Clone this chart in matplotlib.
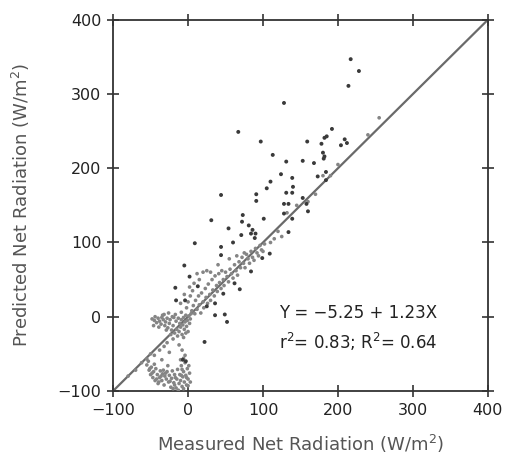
import numpy as np
import matplotlib
matplotlib.use("Agg")
import matplotlib.pyplot as plt

# outlying points (darker in the scan)
dark_x = [217, 228, 214, 128, 67, 97, 192, 185, 182, 159, 178, 209, 212, 204, 180, 182, 181,
          113, 168, 153, 131, 124, 184, 173, 184, 110, 105, 139, 140, 131, 139, 153, 128, 134,
          158, 160, 128, 139, 134, 91, 91, 44, 31, 73, 72, 54, 81, 86, 84, 71, 90, 89, 101,
          60, 9, 44, 44, -5, 109, 99, 84, 2, 13, 69, 62, 47, 36, 25, 36, 49, 52, 22, -4,
          -17, -16, -7, -3]
dark_y = [347, 331, 311, 288, 249, 236, 253, 243, 241, 236, 233, 239, 234, 231, 221, 216, 213,
          218, 207, 210, 209, 192, 195, 189, 184, 182, 173, 187, 175, 167, 167, 160, 152, 152,
          152, 142, 139, 132, 114, 165, 156, 164, 130, 137, 128, 119, 123, 117, 112, 110, 112, 106, 132,
          100, 99, 94, 83, 69, 85, 79, 61, 54, 41, 37, 45, 31, 18, 14, 2, 3, -7, -34, 22,
          39, 22, -58, -60]

# dense cluster points (lighter)
grey_x = [-48, -45, -44, -42, -40, -38, -36, -35, -33, -31, -30, -28, -27, -25, -24, -22, -20,
          -19, -18, -16, -15, -13, -12, -11, -10, -9, -8, -7, -6, -5, -4, -3, -2, -1, 0, 1, 2, 3,
          -46, -39, -34, -29, -23, -17, -14, -9, -6, -3, 4, -32, -26, -21,
          -55, -50, -45, -38, -35, -32, -28, -25, -20, -12, -8, -6, -4, -10,
          -55, -52, -50, -49, -47, -46, -44, -43, -41, -40, -38, -37, -35, -34, -32, -31, -29,
          -28, -26, -25, -23, -22, -21, -19, -18, -16, -15, -14, -12, -11, -10, -9, -8, -7, -6,
          -5, -4, -3, -2, -1, 0, 1, 2, -53, -45, -27, -20, -13, -6, 3,
          -48, -42, -36, -30, -24, -17, -9, -2, -51, -39, -33, -18, -8, 0,
          5, 7, 9, 10, 12, 14, 15, 17, 18, 20, 21, 23, 24, 26, 27, 29, 30, 32, 33, 35, 36, 38,
          39, 41, 42, 44, 45, 47, 48, 50, 52, 54, 56, 58, 60, 62, 64, 66, 68, 70, 72, 74, 76,
          78, 80, 82, 84, 86, 88, 90, 92, 94, 96, 98, 100, 102, -2, 0, 3, -5, 6, -10, 2, 8, 15,
          20, 25, 30, 12, 40, 55, 65, 75,
          110, 115, 120, 125, 132, 145, 160, 170, 180, 190, 200, 240, 255, -70, -80, -62]
grey_y = [-3, -5, 0, -8, -2, -6, -10, -1, -4, -12, -7, -2, -15, -9, -4, -18, -12,
          -1, -22, -6, -17, -2, -20, -9, -14, -4, -24, -11, -1, -17, -7, 2, -13, -5, -20, 1, -9, -3,
          -12, -14, 2, -18, -24, 3, -26, 6, -28, -22, 4, 3, 5, 0,
          -57, -50, -52, -45, -58, -40, -35, -48, -30, -38, -45, -56, -52, -58,
          -65, -72, -78, -68, -82, -74, -86, -70, -78, -90, -82, -73, -86, -77, -92, -80, -84,
          -74, -88, -79, -95, -83, -73, -89, -78, -96, -84, -71, -90, -78, -86, -66, -94, -81, -74,
          -88, -62, -79, -92, -70, -84, -66, -76, -60, -64, -66, -97, -99, -97, -88,
          -76, -84, -80, -76, -87, -82, -79, -82, -70, -88, -72, -92, -71, -93,
          8, 15, 4, 22, 10, 28, 16, 5, 32, 20, 12, 38, 26, 18, 44, 30, 22, 50, 36, 28, 55, 42,
          34, 58, 46, 38, 62, 50, 42, 60, 54, 47, 64, 58, 52, 70, 62, 56, 74, 66, 80, 72, 66,
          84, 78, 72, 88, 80, 76, 92, 86, 82, 96, 90, 88, 98, 12, 20, 28, 30, 35, 18, 40, 45, 50,
          60, 62, 60, 58, 70, 78, 82, 86,
          100, 105, 115, 108, 140, 150, 155, 165, 190, 190, 205, 245, 268, -72, -80, -62]

# 1:1 line
line_x = [-100, 400]
line_y = [-100, 400]

ticks = [-100, 0, 100, 200, 300, 400]

fig = plt.figure(figsize=(5.05, 4.61), dpi=100)
ax = fig.add_axes([0.224, 0.152, 0.742, 0.805])

ax.plot(line_x, line_y, color="#6a6a6a", lw=1.6, zorder=2)
ax.scatter(grey_x, grey_y, s=7, color="#858585", edgecolors="none", zorder=3)
ax.scatter(dark_x, dark_y, s=8, color="#3a3a3a", edgecolors="none", zorder=4)

ax.set_xlim(-100, 400)
ax.set_ylim(-100, 400)
ax.set_xticks(ticks)
ax.set_yticks(ticks)
ax.set_xticklabels([str(t).replace("-", "\u2212") for t in ticks])
ax.set_yticklabels([str(t).replace("-", "\u2212") for t in ticks])
ax.tick_params(direction="inout", length=9, width=1.1, labelsize=11.5,
               top=True, right=True, colors="#222222", pad=4)
for s in ax.spines.values():
    s.set_linewidth(1.3)
    s.set_color("#333333")

ax.set_xlabel("Measured Net Radiation (W/m$^2$)", fontsize=13, color="#555555", labelpad=11)
ax.set_ylabel("Predicted Net Radiation (W/m$^2$)", fontsize=13, color="#555555", labelpad=18)

ax.text(122, 5, "Y = \u22125.25 + 1.23X", fontsize=12, color="#222222", va="center")
ax.text(122, -34, "r$^2$= 0.83; R$^2$= 0.64", fontsize=12, color="#222222", va="center")

fig.savefig("out.png", dpi=100)
